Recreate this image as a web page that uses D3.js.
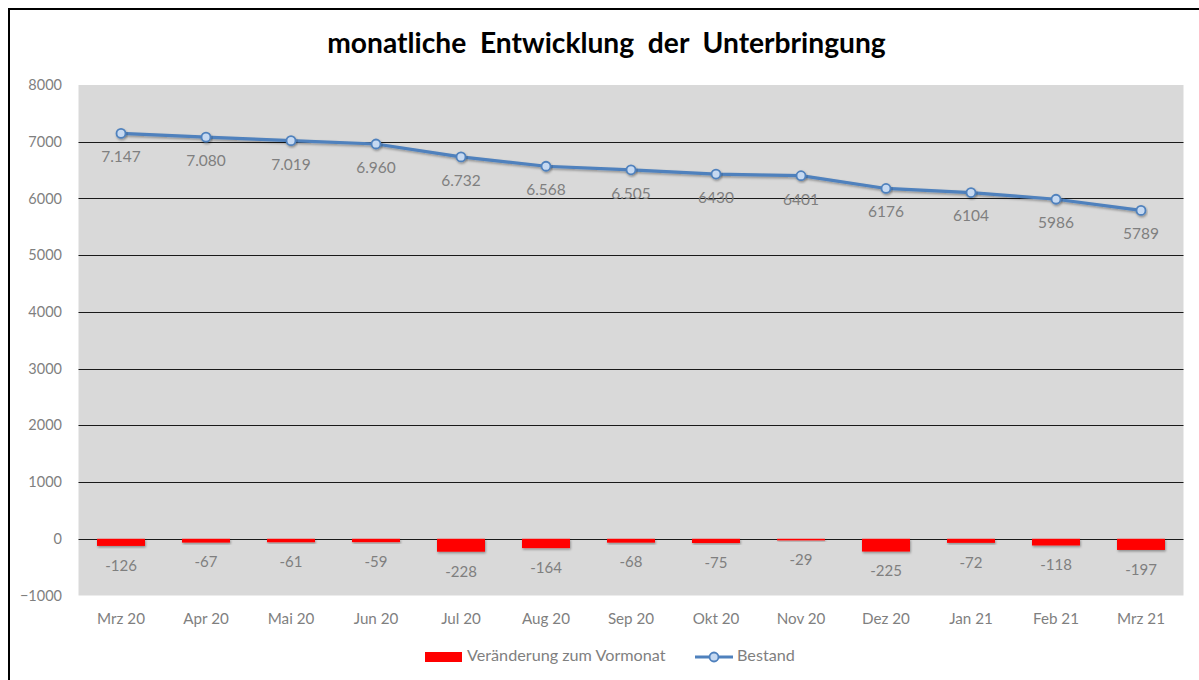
<!DOCTYPE html>
<html>
<head>
<meta charset="utf-8">
<script src="https://cdn.jsdelivr.net/npm/d3@7"></script>
<style>
  html, body { margin: 0; padding: 0; background: #fff; }
  svg { display: block; }
  text { font-family: Lato, "Open Sans", sans-serif; }
</style>
</head>
<body>
<svg id="chart" width="1199" height="680"></svg>
<script>
const categories = ["Mrz 20","Apr 20","Mai 20","Jun 20","Jul 20","Aug 20","Sep 20","Okt 20","Nov 20","Dez 20","Jan 21","Feb 21","Mrz 21"];
const bestand = [7147,7080,7019,6960,6732,6568,6505,6430,6401,6176,6104,5986,5789];
const bestandLabels = ["7.147","7.080","7.019","6.960","6.732","6.568","6.505","6430","6401","6176","6104","5986","5789"];
const veraenderung = [-126,-67,-61,-59,-228,-164,-68,-75,-29,-225,-72,-118,-197];
const yTicks = [-1000,0,1000,2000,3000,4000,5000,6000,7000,8000];
const titleText = "monatliche\u00a0\u00a0Entwicklung\u00a0\u00a0der\u00a0\u00a0Unterbringung";
const legendLabels = ["Veränderung zum Vormonat", "Bestand"];

const svg = d3.select("#chart");
const pLeft = 78.5, pRight = 1183.5, pTop = 85, pBottom = 595.5;

const x = d3.scaleBand().domain(categories).range([pLeft, pRight]).paddingInner(0).paddingOuter(0);
const y = d3.scaleLinear().domain([-1000, 8000]).range([pBottom, pTop]);

const defs = svg.append("defs");
const f = defs.append("filter").attr("id","shadow").attr("x","-20%").attr("y","-20%").attr("width","140%").attr("height","160%");
f.append("feDropShadow").attr("dx",0.8).attr("dy",1.5).attr("stdDeviation",1.2).attr("flood-color","#000").attr("flood-opacity",0.35);

// outer border
svg.append("rect").attr("x",9).attr("y",9).attr("width",1220).attr("height",700)
  .attr("fill","#fff").attr("stroke","#000").attr("stroke-width",2);

// plot background
svg.append("rect").attr("x",pLeft).attr("y",pTop).attr("width",pRight-pLeft).attr("height",pBottom-pTop)
  .attr("fill","#d9d9d9");

// gridlines
svg.append("g").selectAll("line").data(yTicks.filter(d => d > -1000 && d < 8000)).join("line")
  .attr("x1",pLeft).attr("x2",pRight)
  .attr("y1",d => Math.round(y(d))+0.5).attr("y2",d => Math.round(y(d))+0.5)
  .attr("stroke","#1a1a1a").attr("stroke-width",1);

// y axis
const yAxis = d3.axisLeft(y).tickValues(yTicks).tickSize(0).tickPadding(0).tickFormat(d3.format("d"));
const gy = svg.append("g").attr("transform",`translate(62,0)`).call(yAxis);
gy.select(".domain").remove();
gy.selectAll("text").attr("fill","#7f7f7f").attr("font-size",14.5);

// x axis
const xAxis = d3.axisBottom(x).tickSize(0).tickPadding(0);
const gx = svg.append("g").attr("transform",`translate(0,${pBottom+23})`).call(xAxis);
gx.select(".domain").remove();
gx.selectAll("text").attr("fill","#7f7f7f").attr("font-size",15.2).attr("dy","0.35em");

// bars
const bw = 48;
svg.append("g").selectAll("rect").data(veraenderung).join("rect")
  .attr("x",(d,i) => x(categories[i]) + x.bandwidth()/2 - bw/2)
  .attr("y",d => y(Math.max(0,d)))
  .attr("width",bw)
  .attr("height",d => Math.abs(y(d)-y(0)))
  .attr("fill","#ff0000")
  .attr("filter","url(#shadow)");

// bar labels
svg.append("g").selectAll("text").data(veraenderung).join("text")
  .attr("x",(d,i) => x(categories[i]) + x.bandwidth()/2)
  .attr("y",d => y(d) + 21)
  .attr("text-anchor","middle").attr("dominant-baseline","middle")
  .attr("fill","#7f7f7f").attr("font-size",15)
  .text(d => d);

// line
const line = d3.line().x((d,i) => x(categories[i]) + x.bandwidth()/2).y(d => y(d));
svg.append("path").datum(bestand).attr("d",line)
  .attr("fill","none").attr("stroke","#4f81bd").attr("stroke-width",3.2)
  .attr("stroke-linejoin","round").attr("filter","url(#shadow)");

svg.append("g").selectAll("circle").data(bestand).join("circle")
  .attr("cx",(d,i) => x(categories[i]) + x.bandwidth()/2)
  .attr("cy",d => y(d))
  .attr("r",4.5)
  .attr("fill","#c6d9f1").attr("stroke","#4f81bd").attr("stroke-width",1.8)
  .attr("filter","url(#shadow)");

// line labels
svg.append("g").selectAll("text").data(bestand).join("text")
  .attr("x",(d,i) => x(categories[i]) + x.bandwidth()/2)
  .attr("y",d => y(d) + 25)
  .attr("text-anchor","middle").attr("dominant-baseline","middle")
  .attr("fill","#7f7f7f").attr("font-size",15.5)
  .text((d,i) => bestandLabels[i]);

// title
svg.append("text").attr("x",606.5).attr("y",46)
  .attr("text-anchor","middle").attr("dominant-baseline","middle")
  .attr("font-size",28.2).attr("font-weight","bold").attr("fill","#000")
  .text(titleText);

// legend
const lg = svg.append("g");
lg.append("rect").attr("x",425).attr("y",652).attr("width",37).attr("height",10).attr("fill","#ff0000");
lg.append("text").attr("x",467).attr("y",657).attr("dominant-baseline","middle")
  .attr("fill","#7f7f7f").attr("font-size",16.2).text(legendLabels[0]);
lg.append("line").attr("x1",695).attr("x2",733).attr("y1",657).attr("y2",657)
  .attr("stroke","#4f81bd").attr("stroke-width",3);
lg.append("circle").attr("cx",714).attr("cy",657).attr("r",4.5)
  .attr("fill","#c6d9f1").attr("stroke","#4f81bd").attr("stroke-width",1.8);
lg.append("text").attr("x",737).attr("y",657).attr("dominant-baseline","middle")
  .attr("fill","#7f7f7f").attr("font-size",16.2).text(legendLabels[1]);
</script>
</body>
</html>
